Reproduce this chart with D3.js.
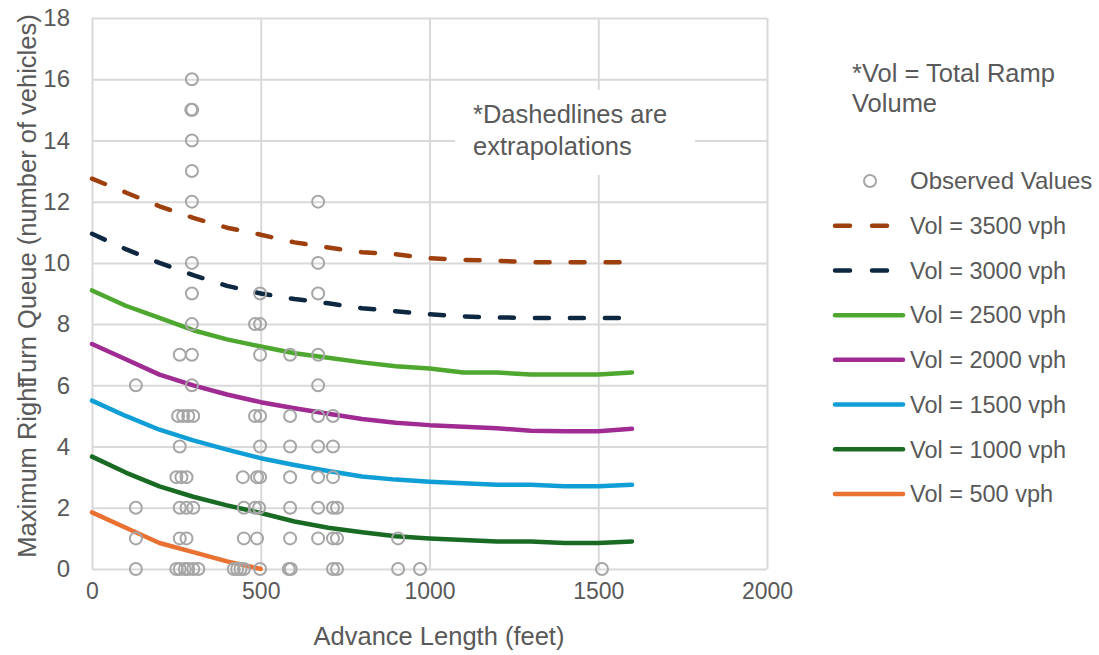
<!DOCTYPE html>
<html>
<head>
<meta charset="utf-8">
<script src="https://cdn.jsdelivr.net/npm/d3@7"></script>
<style>
body { margin: 0; background: #fff; }
text { font-family: "Liberation Sans", Arial, sans-serif; fill: #595959; }
</style>
</head>
<body>
<svg width="1099" height="655"></svg>
<script>
// advance length (ft) where the model curves were evaluated
const lengths = [0, 100, 200, 300, 400, 500, 600, 700, 800, 900, 1000, 1100, 1200, 1300, 1400, 1500, 1600]

// max right turn queue (veh) for each total ramp volume
const q3500 = [12.75, 12.3, 11.85, 11.47, 11.15, 10.92, 10.67, 10.5, 10.35, 10.28, 10.15, 10.1, 10.07, 10.02, 10.02, 10.02, 10.02]
const q3000 = [10.95, 10.45, 10.0, 9.6, 9.25, 9.0, 8.82, 8.68, 8.52, 8.42, 8.32, 8.25, 8.22, 8.2, 8.2, 8.2, 8.2]
const q2500 = [9.1, 8.6, 8.2, 7.8, 7.5, 7.27, 7.05, 6.9, 6.75, 6.62, 6.55, 6.42, 6.42, 6.35, 6.35, 6.35, 6.42]
const q2000 = [7.35, 6.85, 6.35, 6.0, 5.7, 5.45, 5.25, 5.07, 4.9, 4.78, 4.7, 4.65, 4.6, 4.52, 4.5, 4.5, 4.58]
const q1500 = [5.5, 5.0, 4.55, 4.2, 3.9, 3.62, 3.4, 3.2, 3.02, 2.92, 2.85, 2.8, 2.75, 2.75, 2.7, 2.7, 2.75]
const q1000 = [3.67, 3.15, 2.7, 2.36, 2.08, 1.83, 1.55, 1.35, 1.2, 1.07, 1.0, 0.95, 0.9, 0.9, 0.85, 0.85, 0.9]
const q500 = [1.85, 1.35, 0.85, 0.55, 0.25, 0]

const seriesNames = ["Vol = 3500 vph", "Vol = 3000 vph", "Vol = 2500 vph", "Vol = 2000 vph", "Vol = 1500 vph", "Vol = 1000 vph", "Vol = 500 vph"]
const seriesValues = [q3500, q3000, q2500, q2000, q1500, q1000, q500]

// observed values
const obsLength = [
    130, 130, 130, 130,
    250, 260, 275, 285, 300, 315,
    260, 280,
    260, 280, 300,
    250, 265, 280,
    260,
    255, 270, 285, 300,
    296, 260, 296, 296, 296, 296, 296, 296, 296, 294, 297, 296,
    420, 430, 440, 450, 498,
    450, 489,
    450, 483, 495,
    447, 489, 498,
    498, 483, 498, 498, 483, 498, 498,
    583, 589, 587, 587, 587, 587, 587, 587,
    670, 670, 670, 670, 670, 670, 670, 670, 670, 670,
    714, 726, 714, 726, 714, 726, 714, 714, 714,
    907, 907, 972, 1511
]
const obsQueue = [
    0, 1, 2, 6,
    0, 0, 0, 0, 0, 0,
    1, 1,
    2, 2, 2,
    3, 3, 3,
    4,
    5, 5, 5, 5,
    6, 7, 7, 8, 9, 10, 12, 13, 14, 15, 15, 16,
    0, 0, 0, 0, 0,
    1, 1,
    2, 2, 2,
    3, 3, 3,
    4, 5, 5, 7, 8, 8, 9,
    0, 0, 1, 2, 3, 4, 5, 7,
    1, 2, 3, 4, 5, 6, 7, 9, 10, 12,
    0, 0, 1, 1, 2, 2, 3, 4, 5,
    0, 1, 0, 0
]

const xTicks = [0, 500, 1000, 1500, 2000]
const yTicks = [0, 2, 4, 6, 8, 10, 12, 14, 16, 18]

const colors = ["#9E3F0E", "#0E2841", "#4EA72E", "#A02B93", "#0F9ED5", "#196B24", "#E97132"]
const dashed = [true, true, false, false, false, false, false]

const svg = d3.select("svg")
const xScale = d3.scaleLinear().domain([0, 2000]).range([92, 767])
const yScale = d3.scaleLinear().domain([0, 18]).range([569, 18])

// gridlines + tick labels
svg.append("g")
    .attr("transform", "translate(0,569)")
    .call(d3.axisBottom(xScale).tickValues(xTicks).tickFormat(d3.format("d")).tickSize(-551).tickPadding(14))
    .call(g => g.select(".domain").remove())
    .call(g => g.selectAll("line").attr("stroke", "#D9D9D9").attr("stroke-width", 2))
    .call(g => g.selectAll("text").attr("font-size", 23).style("fill", "#595959"))

svg.append("g")
    .attr("transform", "translate(92,0)")
    .call(d3.axisLeft(yScale).tickValues(yTicks).tickSize(-675).tickPadding(22))
    .call(g => g.select(".domain").remove())
    .call(g => g.selectAll("line").attr("stroke", "#D9D9D9").attr("stroke-width", 2))
    .call(g => g.selectAll("text").attr("font-size", 24).style("fill", "#595959"))

// note box covering the grid
svg.append("rect")
    .attr("x", 455).attr("y", 90)
    .attr("width", 240).attr("height", 85)
    .attr("fill", "white")
svg.append("text").attr("x", 473).attr("y", 123).attr("font-size", 25.5).text("*Dashedlines are")
svg.append("text").attr("x", 473).attr("y", 155).attr("font-size", 25.5).text("extrapolations")

// curves
const line = d3.line()
    .x((d, i) => xScale(lengths[i]))
    .y(d => yScale(d))

svg.selectAll("path.curve")
    .data(seriesValues)
    .enter()
    .append("path")
    .attr("class", "curve")
    .attr("d", d => line(d))
    .attr("fill", "none")
    .attr("stroke", (d, i) => colors[i])
    .attr("stroke-width", 4.5)
    .attr("stroke-linecap", "round")
    .attr("stroke-linejoin", "round")
    .attr("stroke-dasharray", (d, i) => dashed[i] ? "14,21" : null)

// observed points
svg.selectAll("circle.obs")
    .data(obsLength)
    .enter()
    .append("circle")
    .attr("class", "obs")
    .attr("cx", d => xScale(d))
    .attr("cy", (d, i) => yScale(obsQueue[i]))
    .attr("r", 6)
    .attr("fill", "none")
    .attr("stroke", "#A6A6A6")
    .attr("stroke-width", 2)

// axis titles
svg.append("text")
    .attr("x", 439).attr("y", 645)
    .attr("text-anchor", "middle")
    .attr("font-size", 25.5)
    .text("Advance Length (feet)")

const yTitle = svg.append("text")
    .attr("transform", "translate(36,286) rotate(-90)")
    .attr("text-anchor", "middle")
    .attr("font-size", 25.5)
yTitle.append("tspan").text("Maximum Righ")
yTitle.append("tspan").text("t")
yTitle.append("tspan").attr("dx", -7).text("Turn Queue (number of vehicles)")

// legend
svg.append("text").attr("x", 852).attr("y", 82).attr("font-size", 25.5).text("*Vol = Total Ramp")
svg.append("text").attr("x", 852).attr("y", 112).attr("font-size", 25.5).text("Volume")

const legendY = d3.scaleLinear().domain([0, 7]).range([181, 494])

svg.append("circle")
    .attr("cx", 870).attr("cy", legendY(0))
    .attr("r", 6)
    .attr("fill", "none")
    .attr("stroke", "#A6A6A6")
    .attr("stroke-width", 2)
svg.append("text")
    .attr("x", 910).attr("y", legendY(0))
    .attr("dy", "0.35em")
    .attr("font-size", 24)
    .text("Observed Values")

svg.selectAll("g.leg")
    .data(seriesNames)
    .enter()
    .append("g")
    .attr("class", "leg")
    .attr("transform", (d, i) => `translate(0,${legendY(i + 1)})`)
    .each(function (d, i) {
        d3.select(this).append("line")
            .attr("x1", 835).attr("x2", 903)
            .attr("y1", 0).attr("y2", 0)
            .attr("stroke", colors[i])
            .attr("stroke-width", 4.5)
            .attr("stroke-linecap", "round")
            .attr("stroke-dasharray", dashed[i] ? "15,22" : null)
        d3.select(this).append("text")
            .attr("x", 910)
            .attr("dy", "0.35em")
            .attr("font-size", 23.5)
            .text(d)
    })
</script>
</body>
</html>
